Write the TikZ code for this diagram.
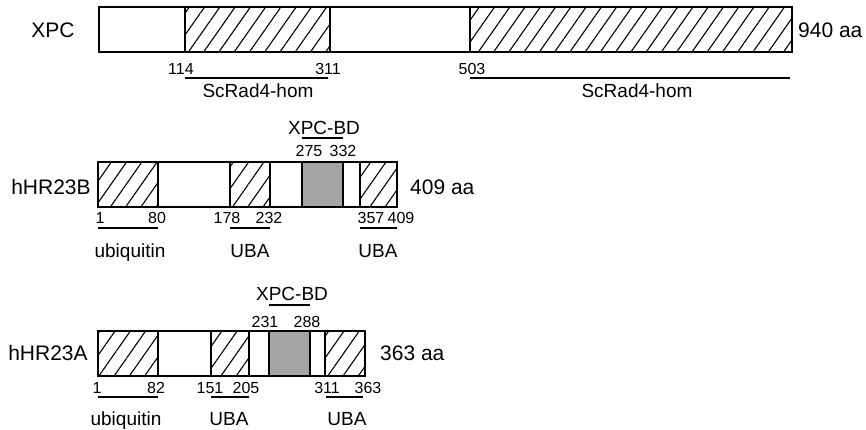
\documentclass[tikz,border=0pt]{standalone}
\usepackage{fontspec}
\setmainfont{Liberation Sans}
\usetikzlibrary{patterns.meta}
\definecolor{bdgray}{RGB}{165,165,165}
\tikzset{
  domhatch/.style={pattern={Lines[angle=55,distance=12.5pt,line width=1.1pt]}},
  dombd/.style={fill=bdgray},
  dombox/.style={draw, line width=2.6pt},
  divider/.style={line width=2.6pt},
  bar/.style={line width=2pt},
  protlab/.style={font=\fontsize{21}{24}\selectfont, inner sep=0pt, anchor=base},
  domlab/.style={font=\fontsize{19}{22}\selectfont, inner sep=0pt, anchor=base},
  poslab/.style={font=\fontsize{16}{19}\selectfont, inner sep=0pt, anchor=base}
}
\begin{document}
\begin{tikzpicture}[x=1pt, y=-1pt]
\useasboundingbox[fill=white] (0,0) rectangle (866,430);

%% XPC
\foreach \a/\b in {185/330, 470/792}{
  \fill[domhatch] (\a,7) rectangle (\b,52);
}
\draw[dombox] (99,7) rectangle (792,52);
\foreach \x in {185,330,470} \draw[divider] (\x,7) -- (\x,52);
\node[protlab] (xpc) at (53,38) {XPC};
\node[protlab, anchor=base west] (xpclen) at (798,38) {940 aa};
\foreach \x/\lab in {181/114, 328/311, 472/503}{
  \node[poslab] (xpc\lab) at (\x,75) {\lab};
}
\draw[bar] (185,78) -- (328,78);
\draw[bar] (470,78) -- (790,78);
\node[domlab] (xpchomA) at (258,98) {ScRad4-hom};
\node[domlab] (xpchomB) at (637,98) {ScRad4-hom};

%% hHR23B
\foreach \a/\b in {98/158, 230/270, 360/397}{
  \fill[domhatch] (\a,162) rectangle (\b,207);
}
\fill[dombd] (302,162) rectangle (343,207);
\draw[dombox] (98,162) rectangle (397,207);
\foreach \x in {158,230,270,302,343,360} \draw[divider] (\x,162) -- (\x,207);
\node[protlab] (hrb) at (51,195) {hHR23B};
\node[protlab, anchor=base west] (hrblen) at (410,195) {409 aa};
\node[domlab] (hrbbd) at (324,135) {XPC-BD};
\draw[bar] (302,138) -- (343,138);
\foreach \x/\lab in {309/275, 343/332}{
  \node[poslab] (hrbtop\lab) at (\x,157) {\lab};
}
\foreach \x/\lab in {100/1, 157/80, 227/178, 269/232, 371/357, 401/409}{
  \node[poslab] (hrbpos\lab) at (\x,223) {\lab};
}
\foreach \a/\b in {98/158, 230/270, 360/397}{
  \draw[bar] (\a,228) -- (\b,228);
}
\node[domlab] (hrbubq) at (130,257) {ubiquitin};
\node[domlab] (hrbubaA) at (250,257) {UBA};
\node[domlab] (hrbubaB) at (378,257) {UBA};

%% hHR23A
\foreach \a/\b in {98/158, 211/249, 325/365}{
  \fill[domhatch] (\a,331) rectangle (\b,376);
}
\fill[dombd] (269,331) rectangle (310,376);
\draw[dombox] (98,331) rectangle (365,376);
\foreach \x in {158,211,249,269,310,325} \draw[divider] (\x,331) -- (\x,376);
\node[protlab] (hra) at (48,360) {hHR23A};
\node[protlab, anchor=base west] (hralen) at (380,360) {363 aa};
\node[domlab] (hrabd) at (292,300) {XPC-BD};
\draw[bar] (269,305) -- (310,305);
\foreach \x/\lab in {265/231, 307/288}{
  \node[poslab] (hratop\lab) at (\x,327) {\lab};
}
\foreach \x/\lab in {97/1, 156/82, 210/151, 246/205, 327/311, 368/363}{
  \node[poslab] (hrapos\lab) at (\x,393) {\lab};
}
\foreach \a/\b in {98/158, 211/249, 326/363}{
  \draw[bar] (\a,397) -- (\b,397);
}
\node[domlab] (hraubq) at (126,425) {ubiquitin};
\node[domlab] (hraubaA) at (229,425) {UBA};
\node[domlab] (hraubaB) at (347,425) {UBA};

\end{tikzpicture}
\end{document}
